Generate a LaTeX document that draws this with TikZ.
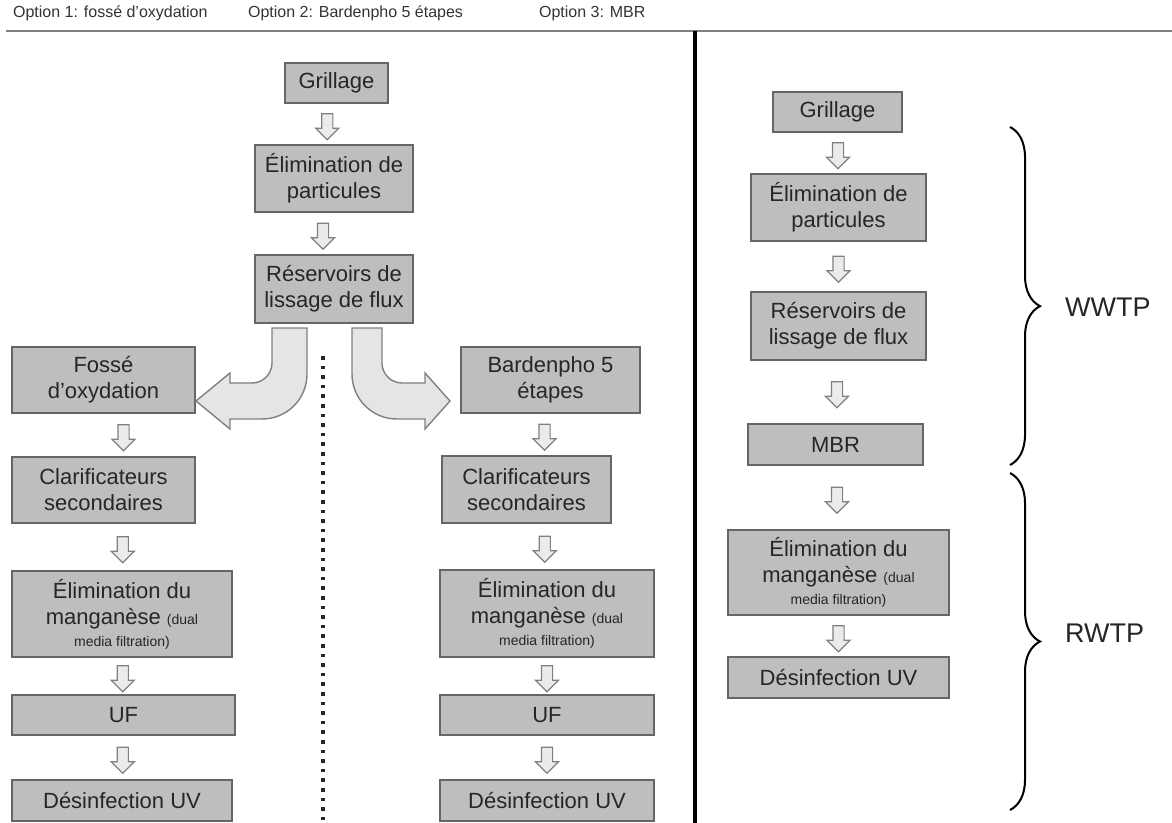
\documentclass[tikz,border=0pt]{standalone}
\usepackage{fontspec}
\setmainfont{Liberation Sans}
\usetikzlibrary{shapes,arrows.meta,calc,decorations.pathreplacing}
\definecolor{boxgray}{HTML}{BEBEBE}
\newcommand{\petit}{\fontsize{7}{9}\selectfont}

\begin{document}
\begin{tikzpicture}[x=0.5pt,y=-0.5pt,
    etape/.style={draw=black!60, line width=1pt, fill=boxgray, text=black!85, align=center, inner sep=0pt, font=\fontsize{11}{13}\selectfont},
    fleche/.style={single arrow, draw=black!50, fill=black!8, line width=0.6pt, shape border rotate=270, minimum height=13pt, minimum width=11pt, single arrow head extend=3pt, inner sep=2.5pt},
    courbe/.style={draw=black!50, fill=black!10, line width=0.7pt},
    titre/.style={anchor=west, text=black!80, font=\fontsize{8}{10}\selectfont},
    accolade/.style={decorate, decoration={brace, amplitude=15pt, aspect=#1}, line width=1pt},
    sigle/.style={anchor=west, text=black!85, font=\fontsize{13.5}{16}\selectfont}]
    \useasboundingbox (0,0) rectangle (1172,823);

    \node [titre] (t1) at (6,13) {Option 1: fossé d'oxydation};
    \node [titre] (t2) at (241,13) {Option 2: Bardenpho 5 étapes};
    \node [titre] (t3) at (532,13) {Option 3: MBR};
    \draw [black!50, line width=1pt] (6,31) -- (1172,31);
    \draw [black, line width=2pt] (695,31) -- (695,823);
    \draw [black!85, line width=1.8pt, dash pattern=on 1.8pt off 3pt] (323,356) -- (323,823);

    \node [etape, minimum width=51.5pt, minimum height=20pt] (g1) at (336.5,83) {Grillage};
    \node [etape, minimum width=79pt, minimum height=33.5pt] (e1) at (334,178.5) {Élimination de\\particules};
    \node [etape, minimum width=79pt, minimum height=34pt] (r1) at (334,289) {Réservoirs de\\lissage de flux};

    \node [etape, minimum width=91.5pt, minimum height=33pt] (f2) at (103.5,380) {Fossé\\d’oxydation};
    \node [etape, minimum width=91.5pt, minimum height=33pt] (c2) at (103.5,490) {Clarificateurs\\secondaires};
    \node [etape, minimum width=110pt, minimum height=43pt] (m2) at (122,614) {Élimination du\\manganèse {\petit(dual}\\[-2pt]{\petit media filtration)}};
    \node [etape, minimum width=111.5pt, minimum height=20pt] (u2) at (123.5,715) {UF};
    \node [etape, minimum width=110pt, minimum height=20.5pt] (d2) at (122,800.5) {Désinfection UV};

    \node [etape, minimum width=89.5pt, minimum height=33pt] (b3) at (550.5,380) {Bardenpho 5\\étapes};
    \node [etape, minimum width=84.5pt, minimum height=33.5pt] (c3) at (526.5,489.5) {Clarificateurs\\secondaires};
    \node [etape, minimum width=107pt, minimum height=43.5pt] (m3) at (547,613.5) {Élimination du\\manganèse {\petit(dual}\\[-2pt]{\petit media filtration)}};
    \node [etape, minimum width=107pt, minimum height=20pt] (u3) at (547,715) {UF};
    \node [etape, minimum width=107pt, minimum height=20.5pt] (d3) at (547,800.5) {Désinfection UV};

    \node [etape, minimum width=64.5pt, minimum height=20pt] (g4) at (837.5,112) {Grillage};
    \node [etape, minimum width=87.5pt, minimum height=33.5pt] (e4) at (838.5,207.5) {Élimination de\\particules};
    \node [etape, minimum width=87.5pt, minimum height=34pt] (r4) at (838.5,326) {Réservoirs de\\lissage de flux};
    \node [etape, minimum width=87.5pt, minimum height=20.5pt] (mbr) at (835.5,444.5) {MBR};
    \node [etape, minimum width=110.5pt, minimum height=42.5pt] (m4) at (838.5,572.5) {Élimination du\\manganèse {\petit(dual}\\[-2pt]{\petit media filtration)}};
    \node [etape, minimum width=110.5pt, minimum height=20.5pt] (d4) at (838.5,677.5) {Désinfection UV};

    \node [fleche, xshift=-4pt] (a1) at ($(g1.south)!.5!(e1.north)$) {};
    \node [fleche, xshift=-5.5pt] (a2) at ($(e1.south)!.5!(r1.north)$) {};
    \node [fleche, xshift=10pt] (a3) at ($(f2.south)!.5!(c2.north)$) {};
    \node [fleche, xshift=5pt] (a4) at ($(c2.south)!.5!(m2.north)$) {};
    \node [fleche] (a5) at ($(m2.south)!.5!(u2.north)$) {};
    \node [fleche] (a6) at ($(u2.south)!.5!(d2.north)$) {};
    \node [fleche, xshift=3pt] (a7) at ($(b3.south)!.5!(c3.north)$) {};
    \node [fleche, xshift=4pt] (a8) at ($(c3.south)!.5!(m3.north)$) {};
    \node [fleche] (a9) at ($(m3.south)!.5!(u3.north)$) {};
    \node [fleche] (a10) at ($(u3.south)!.5!(d3.north)$) {};
    \node [fleche] (a11) at ($(g4.south)!.5!(e4.north)$) {};
    \node [fleche] (a12) at ($(e4.south)!.5!(r4.north)$) {};
    \node [fleche] (a13) at ($(r4.south)!.5!(mbr.north)$) {};
    \node [fleche] (a14) at ($(mbr.south)!.5!(m4.north)$) {};
    \node [fleche] (a15) at ($(m4.south)!.5!(d4.north)$) {};

    \begin{scope}[shift={(r1.south)}]
        \draw [courbe] (-62,4) -- (-62,39) .. controls (-62,50) and (-71,59) .. (-82,59)
            -- (-104,59) -- (-104,49) -- (-138,77) -- (-104,105) -- (-104,95) -- (-72,95)
            .. controls (-47,95) and (-27,75) .. (-27,50) -- (-27,4) -- cycle;
        \draw [courbe] (48,4) -- (48,39) .. controls (48,50) and (57,59) .. (68,59)
            -- (91,59) -- (91,49) -- (116,77) -- (91,105) -- (91,95) -- (63,95)
            .. controls (38,95) and (18,75) .. (18,50) -- (18,4) -- cycle;
    \end{scope}

    \draw [accolade=0.53] (1010,127) -- (1010,465);
    \draw [accolade=0.5] (1010,473) -- (1010,810);
    \node [sigle] (ww) at (1058,307) {WWTP};
    \node [sigle] (rw) at (1058,633) {RWTP};
\end{tikzpicture}
\end{document}
